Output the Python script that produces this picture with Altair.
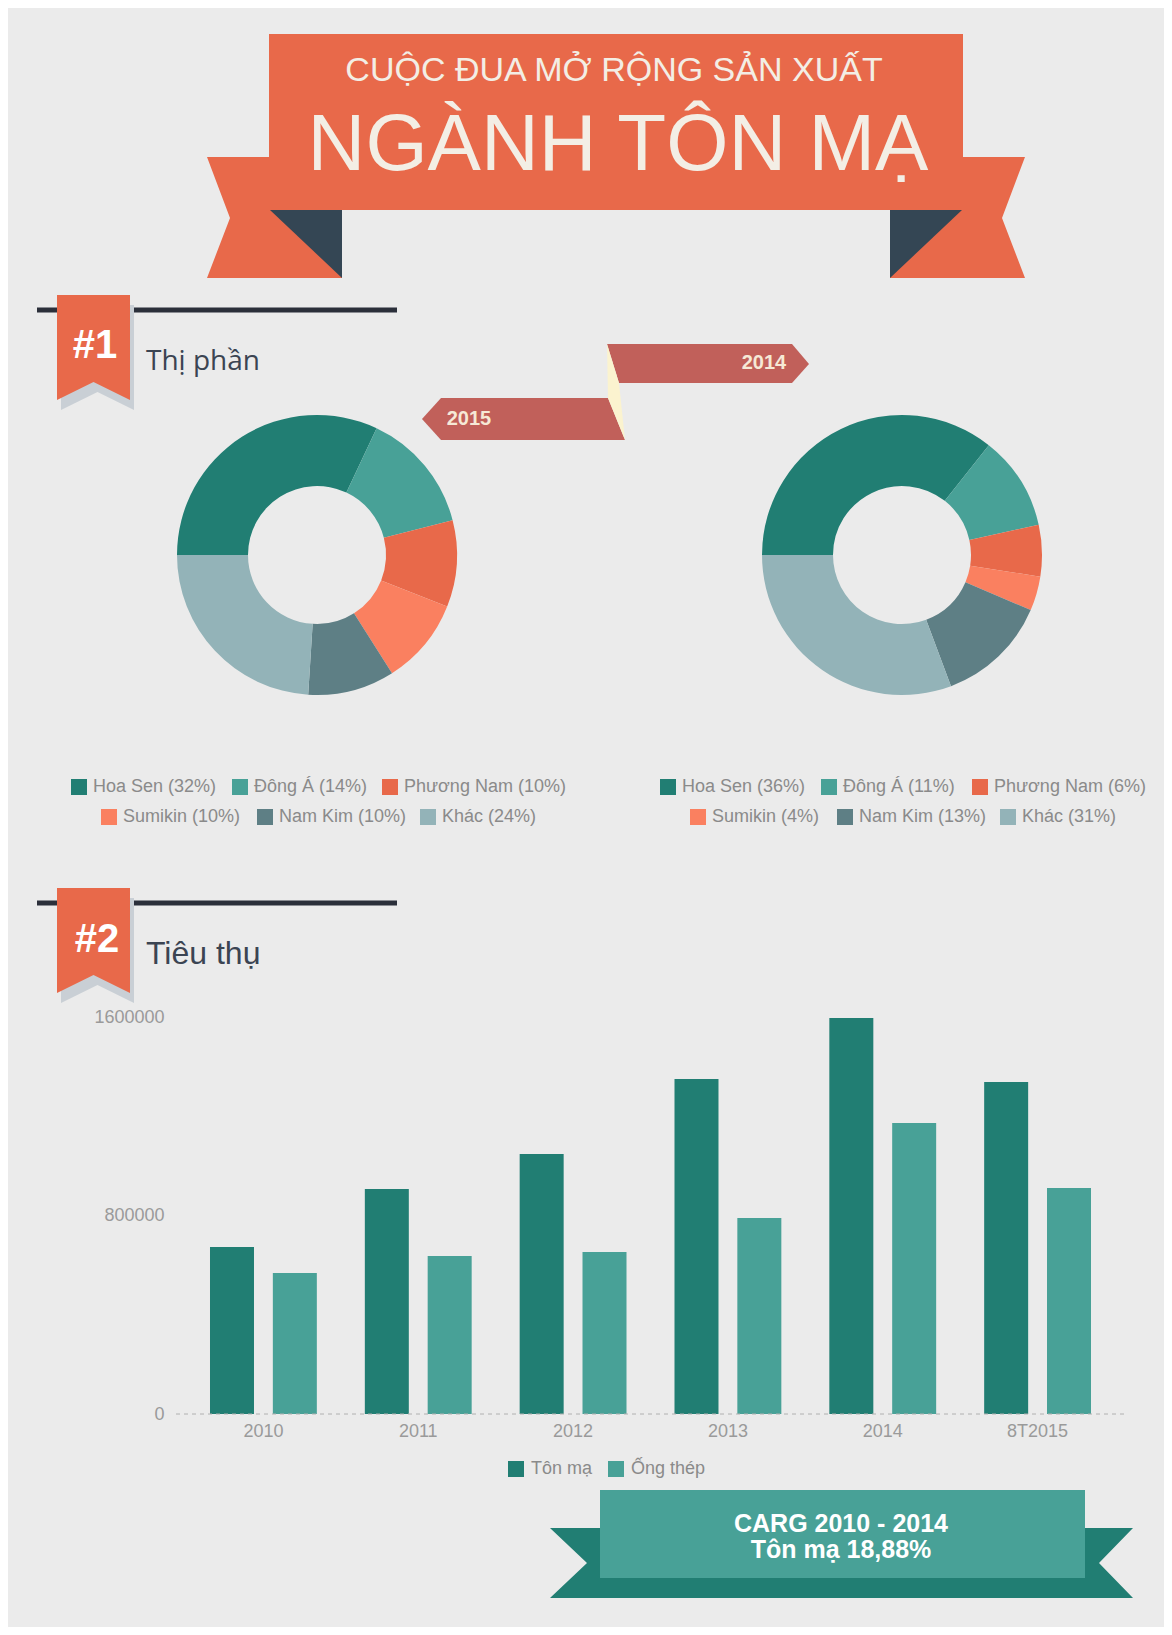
import math
import altair as alt
import pandas as pd

# ---------------- data ----------------
companies = ["Hoa Sen", "Đông Á", "Phương Nam", "Sumikin", "Nam Kim", "Khác"]
share_2015 = [32, 14, 10, 10, 10, 24]
share_2014 = [36, 11, 6, 4, 13, 31]
company_colors = ["#217E73", "#48A197", "#E8694A", "#FA8060", "#5E7F85", "#93B3B8"]

years = ["2010", "2011", "2012", "2013", "2014", "8T2015"]
series = ["Tôn mạ", "Ống thép"]
ton_ma = [673000, 907000, 1048000, 1350000, 1596000, 1338000]
ong_thep = [568000, 637000, 653000, 790000, 1173000, 911000]
series_colors = ["#217E73", "#48A197"]
y_ticks = [0, 800000, 1600000]

title_top = "CUỘC ĐUA MỞ RỘNG SẢN XUẤT"
title_main = "NGÀNH TÔN MẠ"
sec_nums = ["#1", "#2"]
sec_titles = ["Thị phần", "Tiêu thụ"]
tag_labels = ["2014", "2015"]
carg_lines = ["CARG 2010 - 2014", "Tôn mạ 18,88%"]

# ---------------- layout ----------------
W, H, M = 1156, 1619, 8
FONT = "Liberation Sans, Arial, sans-serif"
ORANGE = "#E8694A"
DARK = "#344654"
TAG = "#C1605A"
BG = "#EBEBEB"

PX = alt.Scale(domain=[0, W], range=[0, W], nice=False, zero=False)
PY = alt.Scale(domain=[0, H], range=[0, H], nice=False, zero=False)


def X(f="x"):
    return alt.X(f"{f}:Q", scale=PX, axis=None)


def Y(f="y"):
    return alt.Y(f"{f}:Q", scale=PY, axis=None)


def rect(x0, y0, x1, y1):
    return [(x0, y0), (x1, y0), (x1, y1), (x0, y1)]


def badge(x0, y0, dx=0, dy=0):
    x0, y0 = x0 + dx, y0 + dy
    return [(x0, y0), (x0 + 73, y0), (x0 + 73, y0 + 105), (x0 + 36.5, y0 + 87), (x0, y0 + 105)]


polys = [
    ("#2B2F3A", rect(37, 307.5, 397, 312.5)),
    ("#2B2F3A", rect(37, 900.5, 397, 905.5)),
    (ORANGE, [(207, 157), (269, 157), (269, 210), (342, 210), (342, 278), (207, 278), (230, 218)]),
    (ORANGE, [(1025, 157), (963, 157), (963, 210), (890, 210), (890, 278), (1025, 278), (1002, 218)]),
    (ORANGE, rect(269, 34, 963, 210)),
    (DARK, [(270, 210), (342, 210), (342, 278)]),
    (DARK, [(890, 210), (962, 210), (890, 278)]),
    ("#C9CFD5", badge(57, 295, 4, 10)),
    (ORANGE, badge(57, 295)),
    ("#C9CFD5", badge(57, 888, 4, 10)),
    (ORANGE, badge(57, 888)),
    (TAG, [(607, 344), (792, 344), (809, 364), (792, 383), (619, 383)]),
    (TAG, [(422, 419), (441, 398), (608, 398), (625, 440), (441, 440)]),
    ("#FBF3CF", [(607, 344), (619, 383), (625, 440), (608, 398)]),
    ("#217E73", [(550, 1528), (587, 1563), (550, 1598), (1133, 1598), (1099, 1563), (1133, 1528)]),
    ("#48A197", rect(600, 1490, 1085, 1578)),
]
rows = []
for k, (c, pts) in enumerate(polys):
    for i, (x, y) in enumerate(pts):
        rows.append({"pid": f"p{k:02d}", "i": i, "x": x - M, "y": y - M, "c": c})
poly_df = pd.DataFrame(rows)

layers = []
for pid, g in poly_df.groupby("pid", sort=True):
    layers.append(
        alt.Chart(g).mark_line(interpolate="linear-closed", strokeWidth=0, fill=g["c"].iloc[0], fillOpacity=1)
        .encode(x=X(), y=Y(), order="i:Q")
    )


# ---------------- donuts ----------------
def donut(shares, cx, cy):
    df = pd.DataFrame({"name": companies, "v": shares, "i": list(range(len(companies)))})
    return alt.Chart(df).mark_arc(innerRadius=69, outerRadius=140).encode(
        theta=alt.Theta("v:Q", stack=True, scale=alt.Scale(range=[1.5 * math.pi, 3.5 * math.pi])),
        order=alt.Order("i:Q"),
        color=alt.Color("name:N", scale=alt.Scale(domain=companies, range=company_colors), legend=None),
        x=alt.value(cx - M),
        y=alt.value(cy - M),
    )


layers.append(donut(share_2015, 317, 555))
layers.append(donut(share_2014, 902, 555))

# ---------------- bars ----------------
bar_df = pd.DataFrame({
    "year": years * 2,
    "series": [series[0]] * len(years) + [series[1]] * len(years),
    "v": ton_ma + ong_thep,
})
axis_common = dict(title=None, domain=False, ticks=False, tickSize=0, grid=False,
                   labelFontSize=18, labelColor="#9A9A9A", labelFont=FONT)
bars = alt.Chart(bar_df).mark_bar().encode(
    x=alt.X("year:N", sort=years,
            scale=alt.Scale(range=[186 - M, 1115 - M], paddingInner=0.31, paddingOuter=0.155),
            axis=alt.Axis(orient="bottom", offset=-(H - (1414 - M)), labelPadding=8, labelAngle=0,
                          **axis_common)),
    xOffset=alt.XOffset("series:N", sort=series, scale=alt.Scale(paddingInner=0.3)),
    y=alt.Y("v:Q", scale=alt.Scale(domain=[0, 1600000], range=[1414 - M, 1017 - M], nice=False),
            axis=alt.Axis(orient="left", offset=-(176 - M), values=y_ticks, format="d", labelPadding=12,
                          **axis_common)),
    color=alt.Color("series:N", scale=alt.Scale(domain=series, range=series_colors), legend=None),
)
layers.append(bars)

base_df = pd.DataFrame({"x": [176 - M], "x2": [1128 - M], "y": [1414 - M]})
layers.append(
    alt.Chart(base_df).mark_rule(color="#B0B0B0", strokeDash=[4, 4], strokeWidth=1)
    .encode(x=X(), x2="x2:Q", y=Y())
)

# ---------------- legends ----------------
leg_sq_left = [71, 232, 382, 101, 257, 420]
leg_sq_right = [660, 821, 972, 690, 837, 1000]
leg_rows = [787, 787, 787, 817, 817, 817]
leg = []
for shares, sqs in [(share_2015, leg_sq_left), (share_2014, leg_sq_right)]:
    for name, v, sx, cy in zip(companies, shares, sqs, leg_rows):
        leg.append({"name": name, "label": f"{name} ({v}%)", "x": sx - M, "x2": sx + 16 - M,
                    "y": cy - 8 - M, "y2": cy + 8 - M, "tx": sx + 22 - M, "ty": cy - M})
for name, sx in zip(series, [508, 608]):
    leg.append({"name": name, "label": name, "x": sx - M, "x2": sx + 16 - M,
                "y": 1469 - 8 - M, "y2": 1469 + 8 - M, "tx": sx + 23 - M, "ty": 1469 - M})
leg_df = pd.DataFrame(leg)
layers.append(
    alt.Chart(leg_df).mark_rect().encode(
        x=X(), x2="x2:Q", y=Y(), y2="y2:Q",
        color=alt.Color("name:N", scale=alt.Scale(domain=companies + series,
                                                  range=company_colors + series_colors), legend=None),
    )
)
layers.append(
    alt.Chart(leg_df).mark_text(align="left", baseline="middle", font=FONT, fontSize=18, color="#8A8A8A")
    .encode(x=X("tx"), y=Y("ty"), text="label:N")
)


# ---------------- texts ----------------
def text_layer(items, **kw):
    df = pd.DataFrame([{"t": t, "x": x - M, "y": y - M} for t, x, y in items])
    return alt.Chart(df).mark_text(**kw).encode(x=X(), y=Y(), text="t:N")


layers.append(text_layer([(title_top, 614, 81)], align="center", baseline="alphabetic",
                         font=FONT, fontSize=34, color="#F3EEE5"))
layers.append(text_layer([(title_main, 618, 170)], align="center", baseline="alphabetic",
                         font=FONT, fontSize=80, color="#F3EEE5"))
layers.append(text_layer([(sec_nums[0], 95, 358), (sec_nums[1], 97, 952)], align="center",
                         baseline="alphabetic", font=FONT, fontSize=40, fontWeight="bold", color="#FFFFFF"))
layers.append(text_layer([(sec_titles[0], 146, 370)], align="left", baseline="alphabetic",
                         font="Open Sans, sans-serif", fontSize=28, color="#3B4452"))
layers.append(text_layer([(sec_titles[1], 146, 964)], align="left", baseline="alphabetic",
                         font=FONT, fontSize=32, color="#3B4452"))
layers.append(text_layer([(tag_labels[0], 764, 363), (tag_labels[1], 469, 419)], align="center",
                         baseline="middle", font="Liberation Sans Narrow, Liberation Sans, sans-serif",
                         fontSize=20, fontWeight="bold", color="#F6E9D6"))
layers.append(text_layer([(carg_lines[0], 841, 1532), (carg_lines[1], 841, 1558)], align="center",
                         baseline="alphabetic", font=FONT, fontSize=25, fontWeight="bold", color="#FFFFFF"))

chart = (
    alt.layer(*layers)
    .resolve_scale(x="independent", y="independent", color="independent", theta="independent")
    .properties(width=W, height=H, background=BG, padding=0, autosize=alt.AutoSizeParams(type="none"))
    .configure_view(strokeWidth=0)
)

chart.save("out.html", embed_options={"renderer": "svg", "actions": False})
